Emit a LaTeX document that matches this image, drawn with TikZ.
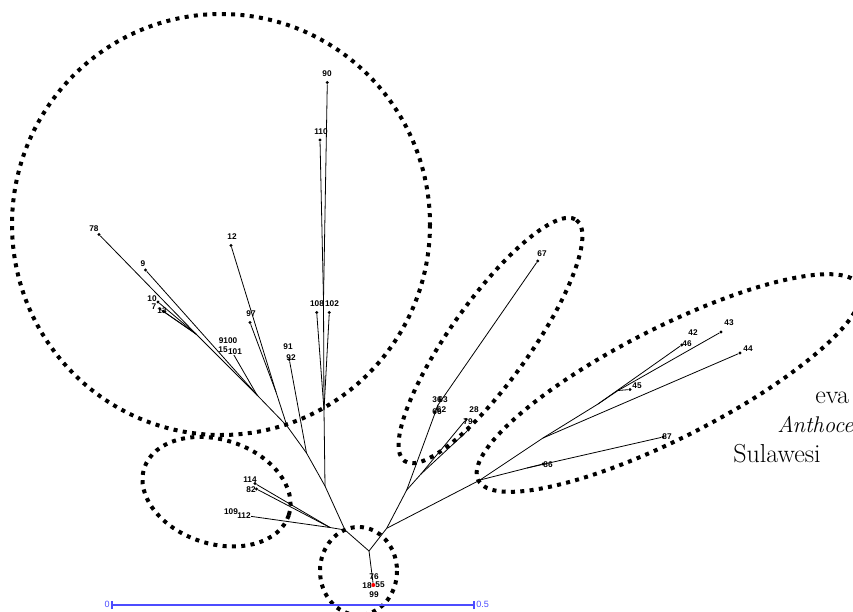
\documentclass[tikz,border=0pt]{standalone}
\usepackage{fontspec}
\newfontfamily\labfont{Liberation Sans}
\begin{document}
\begin{tikzpicture}[x=0.75pt,y=-0.75pt,
  edge/.style={line width=0.6pt},
  leaf/.style={circle,fill=black,inner sep=0pt,minimum size=2.4pt},
  rootdot/.style={circle,fill=red,inner sep=0pt,minimum size=3pt},
  lab/.style={font=\labfont\bfseries\fontsize{6.2}{7}\selectfont,inner sep=0pt},
  clade/.style={line width=3pt,dash pattern=on 3pt off 4pt},
  scalebar/.style={draw=blue!70!white,line width=0.8pt},
  scalelab/.style={font=\labfont\fontsize{6.8}{8}\selectfont,text=blue!70!white,inner sep=0pt},
  big/.style={font=\fontsize{19.5}{23}\selectfont,inner sep=0pt,anchor=base west}]
\useasboundingbox (0,0) rectangle (853,611);

% ---------- clade outlines ----------
\draw[clade] (221,224.5) ellipse [x radius=209, y radius=210.5];
\draw[clade,rotate around={-18:(216.5,491.7)}] (216.5,491.7) ellipse [x radius=76, y radius=52];
\draw[clade] (358.5,571) ellipse [x radius=38.5, y radius=44];
\draw[clade,rotate around={54.5:(490.5,340.5)}] (490.5,340.5) ellipse [x radius=148, y radius=40];
\draw[clade,rotate around={27:(669,383)}] (669,383) ellipse [x radius=214, y radius=55];

% ---------- internal junctions ----------
\coordinate (R) at (369,551);
\coordinate (A) at (345,530);
\coordinate (B) at (386.7,528.3);
\coordinate (D) at (330,527.5);
\coordinate (C) at (325,486);
\coordinate (H2) at (324,410);
\coordinate (H1) at (323.5,300);
\coordinate (F) at (306.5,453);
\coordinate (E) at (287,426);
\coordinate (J1) at (276,392);
\coordinate (K2) at (257,395);
\coordinate (K1) at (196,334);
\coordinate (L1) at (406.7,490);
\coordinate (L3) at (438,405);
\coordinate (L2) at (421,474);
\coordinate (M) at (480,480);
\coordinate (N1) at (527,468);
\coordinate (N2) at (543,438);
\coordinate (N3) at (598,404);
\coordinate (N4) at (618,390.5);

% ---------- leaves ----------
\node[rootdot] (r76) at (373.3,585) {};
\node[leaf] (l90) at (327.3,82.5) {};
\node[leaf] (l110) at (320,140) {};
\node[leaf] (l108) at (316.7,312.5) {};
\node[leaf] (l102) at (329.3,312.5) {};
\node[leaf] (l12) at (231,245.5) {};
\node[leaf] (l78) at (99,234.5) {};
\node[leaf] (l9) at (145.5,270) {};
\node[leaf] (l10) at (158,302) {};
\node[leaf] (l7) at (160,309) {};
\node[leaf] (l13) at (163.5,311.5) {};
\node[leaf] (l97) at (250,322.5) {};
\node[leaf] (l101) at (231,350) {};
\node[leaf] (l92) at (289.3,359.5) {};
\node[leaf] (l114) at (255,483.5) {};
\node[leaf] (l82) at (256.5,489) {};
\node[leaf] (l112) at (241.5,515) {};
\node[leaf] (l67) at (537.7,261) {};
\node[leaf] (l66) at (435,412) {};
\node[leaf] (l28) at (466,419.5) {};
\node[leaf] (l79) at (468.3,430) {};
\node[leaf] (l46) at (681.7,345) {};
\node[leaf] (l43) at (721,332) {};
\node[leaf] (l44) at (740,353) {};
\node[leaf] (l45) at (630,389.5) {};
\node[leaf] (l87) at (663,437) {};
\node[leaf] (l86) at (543,464) {};

% ---------- edges ----------
\draw[edge] (R) -- (r76);
\draw[edge] (R) -- (A);
\draw[edge] (R) -- (B);
\draw[edge] (A) -- (D);
\draw[edge] (D) -- (l114);
\draw[edge] (D) -- (l82);
\draw[edge] (D) -- (l112);
\draw[edge] (A) -- (C);
\draw[edge] (C) -- (H2);
\draw[edge] (H2) -- (H1);
\draw[edge] (H1) -- (l90);
\draw[edge] (H1) -- (l110);
\draw[edge] (H2) -- (l108);
\draw[edge] (H2) -- (l102);
\draw[edge] (C) -- (F);
\draw[edge] (F) -- (l92);
\draw[edge] (F) -- (E);
\draw[edge] (E) -- (J1);
\draw[edge] (J1) -- (l12);
\draw[edge] (J1) -- (l97);
\draw[edge] (E) -- (K2);
\draw[edge] (K2) -- (l9);
\draw[edge] (K2) -- (l101);
\draw[edge] (K2) -- (K1);
\draw[edge] (K1) -- (l78);
\draw[edge] (K1) -- (l10);
\draw[edge] (K1) -- (l7);
\draw[edge] (K1) -- (l13);
\draw[edge] (B) -- (L1);
\draw[edge] (L1) -- (L3);
\draw[edge] (L3) -- (l67);
\draw[edge] (L3) -- (l66);
\draw[edge] (L1) -- (L2);
\draw[edge] (L2) -- (l28);
\draw[edge] (L2) -- (l79);
\draw[edge] (B) -- (M);
\draw[edge] (M) -- (N1);
\draw[edge] (N1) -- (l87);
\draw[edge] (N1) -- (l86);
\draw[edge] (M) -- (N2);
\draw[edge] (N2) -- (l44);
\draw[edge] (N2) -- (N3);
\draw[edge] (N3) -- (l46);
\draw[edge] (N3) -- (N4);
\draw[edge] (N4) -- (l43);
\draw[edge] (N4) -- (l45);

% ---------- leaf labels ----------
\node[lab] (t90) at (327,74) {90};
\node[lab] (t110) at (321,132) {110};
\node[lab] (t108) at (317,304) {108};
\node[lab] (t102) at (332,304) {102};
\node[lab] (t12) at (232,237) {12};
\node[lab] (t78) at (94,229) {78};
\node[lab] (t9) at (143,264) {9};
\node[lab] (t10) at (152,298.5) {10};
\node[lab] (t7) at (154,307) {7};
\node[lab] (t13) at (162,311) {13};
\node[lab] (t97) at (251,314) {97};
\node[lab] (t9100) at (228,341) {9100};
\node[lab] (t15) at (223,349.5) {15};
\node[lab,fill=white,inner sep=0.3pt] (t101) at (235,352) {101};
\node[lab] (t91) at (288,347) {91};
\node[lab] (t92) at (291,358) {92};
\node[lab] (t114) at (250,480) {114};
\node[lab] (t82) at (251,490) {82};
\node[lab] (t109) at (231,512) {109};
\node[lab,fill=white,inner sep=0.3pt] (t112) at (244,516) {112};
\node[lab] (t76) at (374,577) {76};
\node[lab] (t18) at (367,585.5) {18};
\node[lab] (t55) at (380,585) {55};
\node[lab] (t99) at (374,594.5) {99};
\node[lab] (t67) at (542,254) {67};
\node[lab] (t36) at (437,400) {36};
\node[lab] (t63) at (443,400) {63};
\node[lab] (t62) at (441.5,409.5) {62};
\node[lab] (t66) at (437,411.5) {66};
\node[lab] (t28) at (474,410) {28};
\node[lab] (t79) at (468,422) {79};
\node[lab] (t42) at (693,333) {42};
\node[lab] (t46) at (687,344) {46};
\node[lab] (t43) at (729,323) {43};
\node[lab] (t44) at (748,349) {44};
\node[lab] (t45) at (637,386) {45};
\node[lab] (t87) at (667,437) {87};
\node[lab] (t86) at (548,465) {86};

% ---------- scale bar ----------
\coordinate (s0) at (112,605);
\coordinate (s1) at (474,605);
\draw[scalebar] (s0) -- (s1);
\draw[scalebar] ([yshift=-3pt]s0) -- ([yshift=3pt]s0);
\draw[scalebar] ([yshift=-3pt]s1) -- ([yshift=3pt]s1);
\node[scalelab,anchor=east] (sl0) at (110,604) {0};
\node[scalelab,anchor=west] (sl1) at (476,604) {0.5};

% ---------- cut-off caption text ----------
\node[big] (c1) at (815,403.5) {eva};
\node[big,font=\fontsize{17}{20}\selectfont\itshape] (c2) at (777,432.5) {Anthoce};
\node[big] (c3) at (733,462.5) {Sulawesi};
\end{tikzpicture}
\end{document}
